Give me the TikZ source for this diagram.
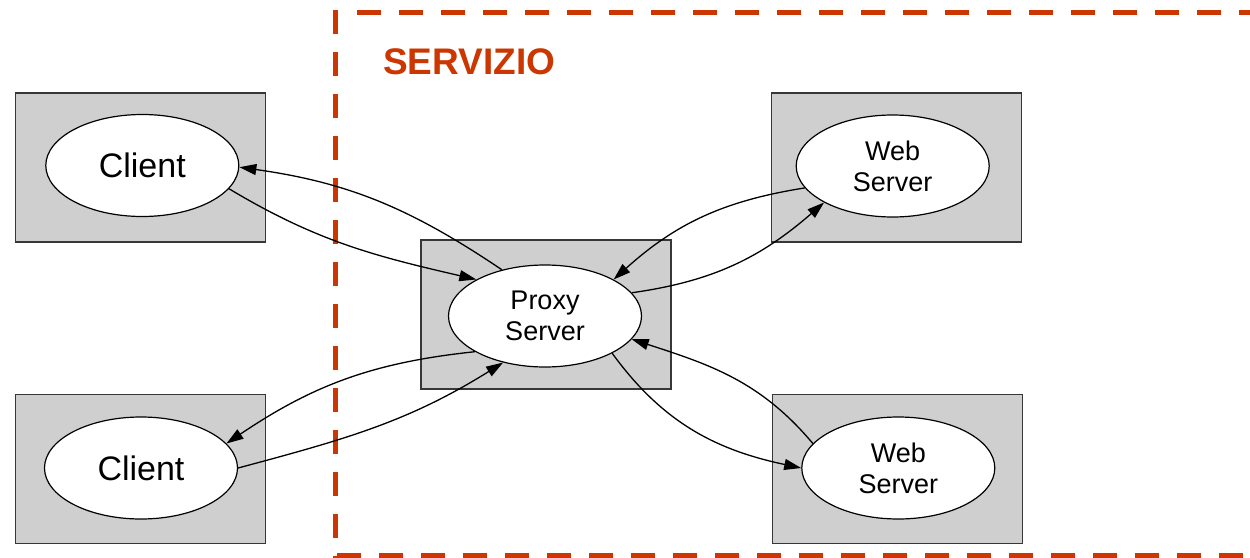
\documentclass[tikz,border=0pt]{standalone}
\usepackage{fontspec}
\setmainfont{Liberation Sans}
\usetikzlibrary{arrows.meta,shapes.geometric}
\definecolor{servred}{RGB}{204,54,0}
\definecolor{boxgray}{RGB}{207,207,207}
\definecolor{boxline}{RGB}{55,55,55}
\tikzset{
  hostbox/.style={draw=boxline, fill=boxgray, line width=1.5pt, rectangle, minimum width=250pt, minimum height=149pt, inner sep=0pt},
  elli/.style={draw=black, fill=white, line width=1.2pt, ellipse, minimum width=193pt, minimum height=102pt, inner sep=0pt, align=center},
  bigtxt/.style={font=\fontsize{34}{40}\selectfont},
  smalltxt/.style={font=\fontsize{27}{31}\selectfont},
  conn/.style={draw=black, line width=1.3pt, -{Triangle[length=17pt,width=11pt]}},
  servline/.style={draw=servred, line width=5pt, dash pattern=on 24pt off 18pt}
}
\begin{document}
\begin{tikzpicture}[x=1pt,y=1pt]
\useasboundingbox (0,0) rectangle (1250,-557);
\begin{scope}
\clip (0,0) rectangle (1250,-557);
\draw[servline] (335,-10) -- (335,-560);
\draw[servline] (357,-12.5) -- (1260,-12.5);
\draw[servline] (337,-555.5) -- (1260,-555.5);
\end{scope}
\node[anchor=base west, inner sep=0pt, text=servred, font=\bfseries\fontsize{37}{44}\selectfont] (serv) at (383,-74) {SERVIZIO};

\node[hostbox] (c1box) at (140.3,-167.3) {};
\node[hostbox] (c2box) at (140.3,-469) {};
\node[hostbox] (pbox) at (545.8,-314.7) {};
\node[hostbox] (w1box) at (896.3,-167.3) {};
\node[hostbox] (w2box) at (897.5,-469.2) {};

\node[elli, bigtxt] (c1) at (142.3,-165.5) {Client};
\node[elli, bigtxt] (c2) at (141,-468) {Client};
\node[elli, smalltxt] (p) at (545,-316) {Proxy\\Server};
\node[elli, smalltxt] (w1) at (892.7,-166) {Web\\Server};
\node[elli, smalltxt] (w2) at (898.3,-468) {Web\\Server};

\draw[conn] (p.133) to[out=146,in=-8] (c1.-1);
\draw[conn] (c1.-15) to[out=-31,in=167] (p.152);
\draw[conn] (p.207) to[out=186,in=34] (c2.16);
\draw[conn] (c2.0) to[out=15,in=212] (p.228);
\draw[conn] (w1.194) to[out=189,in=42] (p.28);
\draw[conn] (p.15) to[out=8,in=221] (w1.208);
\draw[conn] (w2.164) to[out=130,in=-18] (p.-15);
\draw[conn] (p.-29) to[out=-54,in=168] (w2.180);
\end{tikzpicture}
\end{document}
